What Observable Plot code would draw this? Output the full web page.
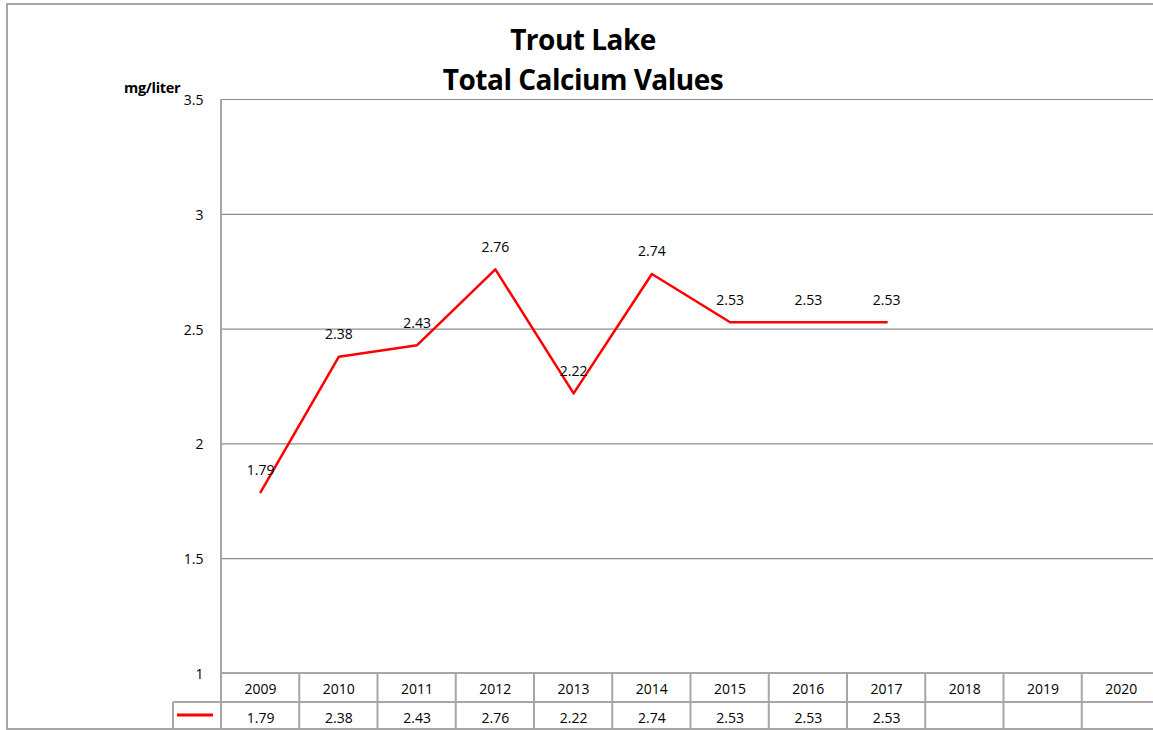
<!DOCTYPE html>
<html>
<head>
<meta charset="utf-8">
<script src="https://cdn.jsdelivr.net/npm/d3@7"></script>
<script src="https://cdn.jsdelivr.net/npm/@observablehq/plot@0.6"></script>
<style>
  html, body { margin: 0; padding: 0; background: #fff; }
  #wrap { position: relative; width: 1153px; height: 730px; overflow: hidden; font-family: "Open Sans", Lato, sans-serif; }
  #frame { position: absolute; left: 6px; top: 3px; right: -10px; bottom: 0px; border-left: 2px solid #a6a6a6; border-top: 2px solid #a6a6a6; border-bottom: 2px solid #a6a6a6; }
  #chart { position: absolute; left: 0; top: 0; }
  .title { position: absolute; left: 0; width: 1166px; text-align: center; font-weight: bold; font-size: 28px; color: #000; font-family: "Open Sans", Lato, sans-serif; letter-spacing: -0.5px; }
  #unit { position: absolute; left: 124px; top: 78px; font-weight: bold; font-size: 14.5px; letter-spacing: -0.3px; }
</style>
</head>
<body>
<div id="wrap">
  <div id="frame"></div>
  <div id="chart"></div>
  <div class="title" style="top:20px">Trout Lake</div>
  <div class="title" style="top:60px">Total Calcium Values</div>
  <div id="unit">mg/liter</div>
</div>
<script>
const years = [2009, 2010, 2011, 2012, 2013, 2014, 2015, 2016, 2017, 2018, 2019, 2020];
const measuredYears = [2009, 2010, 2011, 2012, 2013, 2014, 2015, 2016, 2017];
const calcium = [1.79, 2.38, 2.43, 2.76, 2.22, 2.74, 2.53, 2.53, 2.53];
const yTicks = [1, 1.5, 2, 2.5, 3, 3.5];

const data = measuredYears.map((y, i) => ({year: y, value: calcium[i]}));
const edges = years.map(y => y - 0.5).concat([years[years.length - 1] + 0.5]);

const W = 1153, H = 730;
const mL = 221, mT = 99, mB = 57;

const tableMark = (index, scales, values, dims) => {
  const g = d3.create("svg:g");
  const x = scales.x;
  const top = dims.height - dims.marginBottom;
  const row2 = top + 29;
  const bottom = dims.height - 1;
  const keyLeft = 173;
  const stroke = "#a6a6a6";
  g.append("line").attr("x1", dims.marginLeft).attr("x2", dims.width).attr("y1", top).attr("y2", top)
    .attr("stroke", stroke).attr("stroke-width", 2);
  g.append("line").attr("x1", keyLeft).attr("x2", dims.width).attr("y1", row2).attr("y2", row2)
    .attr("stroke", stroke).attr("stroke-width", 2);
  for (const e of edges) {
    const px = x(e);
    g.append("line").attr("x1", px).attr("x2", px)
      .attr("y1", e === edges[0] ? dims.marginTop : top).attr("y2", bottom)
      .attr("stroke", stroke).attr("stroke-width", 2);
  }
  g.append("line").attr("x1", keyLeft).attr("x2", keyLeft).attr("y1", row2).attr("y2", bottom)
    .attr("stroke", stroke).attr("stroke-width", 2);
  g.append("line").attr("x1", keyLeft + 4).attr("x2", keyLeft + 40).attr("y1", row2 + 13).attr("y2", row2 + 13)
    .attr("stroke", "red").attr("stroke-width", 3);
  return g.node();
};

const plot = Plot.plot({
  width: W,
  height: H,
  marginLeft: mL,
  marginTop: mT,
  marginBottom: mB,
  marginRight: 0,
  style: {fontFamily: "'Open Sans', Lato, sans-serif", fontSize: "14px", background: "transparent", color: "#000"},
  x: {type: "linear", domain: [2008.5, 2020.5], range: [mL, 1160], axis: null},
  y: {domain: [1, 3.5], axis: null},
  marks: [
    Plot.gridY(yTicks, {stroke: "#8c8c8c", strokeOpacity: 1, strokeWidth: 1.2}),
    Plot.axisY(yTicks, {tickSize: 0, tickPadding: 18, fontSize: 14, tickFormat: d => String(d), dy: 1, label: null}),
    tableMark,
    Plot.line(data, {x: "year", y: "value", stroke: "red", strokeWidth: 2.5}),
    Plot.text(data, {x: "year", y: "value", text: d => d.value.toFixed(2), dy: -22, fontSize: 14}),
    Plot.text(years, {x: d => d, frameAnchor: "bottom", dy: 20, text: d => String(d), fontSize: 14}),
    Plot.text(data, {x: "year", frameAnchor: "bottom", dy: 49, text: d => d.value.toFixed(2), fontSize: 14})
  ]
});
document.getElementById("chart").appendChild(plot);
</script>
</body>
</html>
